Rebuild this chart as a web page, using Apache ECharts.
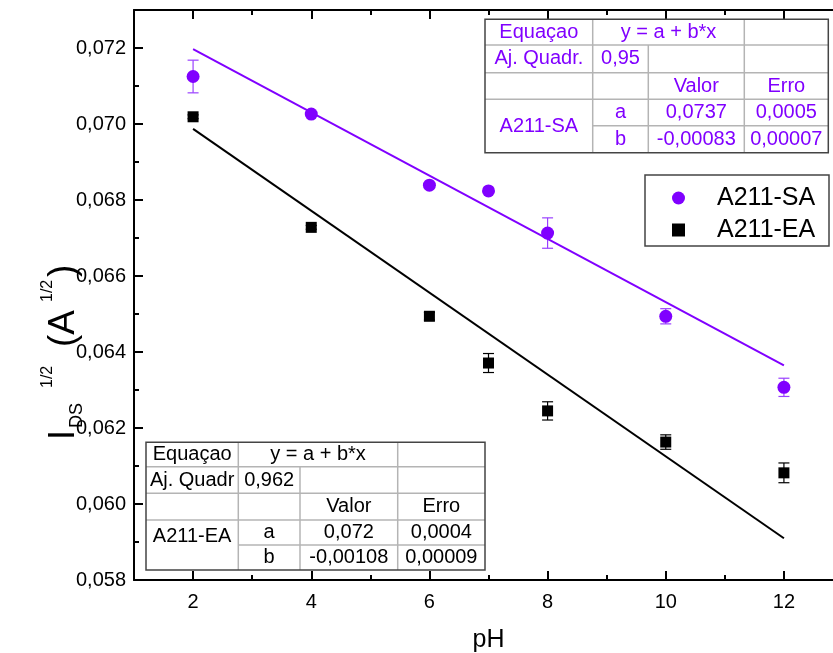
<!DOCTYPE html>
<html><head><meta charset="utf-8">
<script src="https://cdn.jsdelivr.net/npm/echarts@6/dist/echarts.min.js"></script>
<style>html,body{margin:0;padding:0;background:#fff}#chart{width:833px;height:653px}</style>
</head><body><div id="chart"></div>
<script>
// ---- data ----
const pH = [2, 4, 6, 7, 8, 10, 12];
const saValues = [0.07125, 0.07026, 0.06839, 0.06824, 0.06713, 0.06494, 0.06307];
const saErrors = [0.00043, 0.00005, 0.00005, 0.00005, 0.00040, 0.00020, 0.00024];
const eaValues = [0.07019, 0.06728, 0.06494, 0.06371, 0.06245, 0.06163, 0.06082];
const eaErrors = [0.00005, 0.00005, 0.00010, 0.00025, 0.00024, 0.00019, 0.00026];
const fitX = [2, 12];
const saFit = [0.07197, 0.06365];
const eaFit = [0.06987, 0.05910];
const xTicks = [2, 4, 6, 8, 10, 12];
const xMinorTicks = [3, 5, 7, 9, 11, 13];
const yTicks = [0.058, 0.060, 0.062, 0.064, 0.066, 0.068, 0.070, 0.072];
const yTickLabels = ['0,058', '0,060', '0,062', '0,064', '0,066', '0,068', '0,070', '0,072'];
const yMinorTicks = [0.059, 0.061, 0.063, 0.065, 0.067, 0.069, 0.071, 0.073];
const seriesNames = ['A211-SA', 'A211-EA'];
const tableSA = [
  ['Equaçao', 'y = a + b*x'],
  ['Aj. Quadr.', '0,95'],
  ['Valor', 'Erro'],
  ['A211-SA', 'a', '0,0737', '0,0005'],
  ['b', '-0,00083', '0,00007']
];
const tableEA = [
  ['Equaçao', 'y = a + b*x'],
  ['Aj. Quadr', '0,962'],
  ['Valor', 'Erro'],
  ['A211-EA', 'a', '0,072', '0,0004'],
  ['b', '-0,00108', '0,00009']
];

const FONT = 'Arial, "Liberation Sans", sans-serif';
const PURPLE = '#8000ff';
const chart = echarts.init(document.getElementById('chart'), null, {renderer: 'canvas'});

function errorSeries(name, values, errors, color) {
  return {
    type: 'custom', name: name + ' err', z: 1, silent: true,
    data: pH.map((x, i) => [x, values[i], errors[i]]),
    renderItem: function (params, api) {
      const x = api.value(0), y = api.value(1), e = api.value(2);
      const t = api.coord([x, y + e]), b = api.coord([x, y - e]);
      const hw = 5.5;
      const st = {stroke: color, lineWidth: 1.2};
      return {type: 'group', children: [
        {type: 'line', shape: {x1: t[0], y1: t[1], x2: b[0], y2: b[1]}, style: st},
        {type: 'line', shape: {x1: t[0] - hw, y1: t[1], x2: t[0] + hw, y2: t[1]}, style: st},
        {type: 'line', shape: {x1: b[0] - hw, y1: b[1], x2: b[0] + hw, y2: b[1]}, style: st}
      ]};
    }
  };
}

function buildTable(t, cols, rows, color, nameCy) {
  const els = [];
  const inner = {stroke: '#b4b4b4', lineWidth: 1.5};
  const L = cols[0], R = cols[4], T = rows[0], B = rows[5];
  els.push({type: 'rect', shape: {x: L, y: T, width: R - L, height: B - T}, style: {fill: '#fff', stroke: 'none'}, z: 10});
  const hl = (y, x1, x2) => els.push({type: 'line', shape: {x1: x1, y1: y, x2: x2, y2: y}, style: inner, z: 11});
  const vl = (x, y1, y2) => els.push({type: 'line', shape: {x1: x, y1: y1, x2: x, y2: y2}, style: inner, z: 11});
  hl(rows[1], L, R); hl(rows[2], L, R); hl(rows[3], L, R); hl(rows[4], cols[1], R);
  vl(cols[1], T, B); vl(cols[2], rows[1], B); vl(cols[3], T, B);
  els.push({type: 'rect', shape: {x: L, y: T, width: R - L, height: B - T}, style: {fill: 'none', stroke: '#444', lineWidth: 1.5}, z: 12});
  const cx = i => (cols[i] + cols[i + 1]) / 2;
  const cy = j => (rows[j] + rows[j + 1]) / 2;
  const txt = (s, x, y) => els.push({type: 'text', x: x, y: y, z: 13,
    style: {text: s, fill: color, font: '20px ' + FONT, align: 'center', verticalAlign: 'middle'}});
  txt(t[0][0], cx(0), cy(0)); txt(t[0][1], (cols[1] + cols[3]) / 2, cy(0));
  txt(t[1][0], cx(0), cy(1)); txt(t[1][1], cx(1), cy(1));
  txt(t[2][0], cx(2), cy(2)); txt(t[2][1], cx(3), cy(2));
  txt(t[3][0], cx(0), nameCy); txt(t[3][1], cx(1), cy(3)); txt(t[3][2], cx(2), cy(3)); txt(t[3][3], cx(3), cy(3));
  txt(t[4][0], cx(1), cy(4)); txt(t[4][1], cx(2), cy(4)); txt(t[4][2], cx(3), cy(4));
  return els;
}

const gridL = 134, gridT = 10, gridW = 709, gridH = 570;
const baseX = {
  type: 'value', min: 1, max: 13, gridIndex: 0,
  splitLine: {show: false}
};
const baseY = {
  type: 'value', min: 0.058, max: 0.073, gridIndex: 0,
  splitLine: {show: false}
};

const option = {
  backgroundColor: '#fff',
  animation: false,
  grid: {left: gridL, top: gridT, width: gridW, height: gridH, containLabel: false, outerBoundsMode: 'none'},
  xAxis: [
    Object.assign({}, baseX, {
      position: 'bottom',
      name: 'pH', nameLocation: 'middle', nameGap: 48,
      nameTextStyle: {fontSize: 25, fontFamily: FONT, color: '#000'},
      axisLine: {show: true, onZero: false, lineStyle: {color: '#000', width: 2}},
      axisTick: {show: true, inside: true, length: 9, customValues: xTicks, lineStyle: {color: '#000', width: 2}},
      axisLabel: {show: true, customValues: xTicks, margin: 12, fontSize: 20, fontFamily: FONT, color: '#000'}
    }),
    Object.assign({}, baseX, {
      position: 'bottom',
      axisLine: {show: false, onZero: false},
      axisTick: {show: true, inside: true, length: 5, customValues: xMinorTicks, lineStyle: {color: '#000', width: 2}},
      axisLabel: {show: false}
    }),
    Object.assign({}, baseX, {
      position: 'top',
      axisLine: {show: true, onZero: false, lineStyle: {color: '#000', width: 2}},
      axisTick: {show: true, inside: true, length: 9, customValues: xTicks, lineStyle: {color: '#000', width: 2}},
      axisLabel: {show: false}
    }),
    Object.assign({}, baseX, {
      position: 'top',
      axisLine: {show: false, onZero: false},
      axisTick: {show: true, inside: true, length: 5, customValues: xMinorTicks, lineStyle: {color: '#000', width: 2}},
      axisLabel: {show: false}
    })
  ],
  yAxis: [
    Object.assign({}, baseY, {
      position: 'left',
      axisLine: {show: true, onZero: false, lineStyle: {color: '#000', width: 2}},
      axisTick: {show: true, inside: true, length: 9, customValues: yTicks, lineStyle: {color: '#000', width: 2}},
      axisLabel: {show: true, customValues: yTicks, margin: 8, fontSize: 20, fontFamily: FONT, color: '#000',
        formatter: function (v) { const i = yTicks.findIndex(t => Math.abs(t - v) < 1e-9); return i >= 0 ? yTickLabels[i] : ''; }}
    }),
    Object.assign({}, baseY, {
      position: 'left',
      axisLine: {show: false, onZero: false},
      axisTick: {show: true, inside: true, length: 5, customValues: yMinorTicks, lineStyle: {color: '#000', width: 2}},
      axisLabel: {show: false}
    })
  ],
  legend: {
    data: [{name: seriesNames[0], icon: 'circle'}, {name: seriesNames[1], icon: 'rect'}],
    orient: 'vertical', left: 645, top: 175,
    padding: [10, 8, 3, 27],
    itemWidth: 13, itemHeight: 13, itemGap: 6,
    borderColor: '#444', borderWidth: 1.5, backgroundColor: '#fff',
    textStyle: {fontSize: 25, fontFamily: FONT, color: '#000', lineHeight: 26, padding: [0, 0, 0, 27], width: 104},
    z: 20
  },
  series: [
    errorSeries(seriesNames[0], saValues, saErrors, '#9a40ff'),
    errorSeries(seriesNames[1], eaValues, eaErrors, '#000'),
    {type: 'line', name: 'SA fit', data: fitX.map((x, i) => [x, saFit[i]]), showSymbol: false, symbol: 'none',
      lineStyle: {color: PURPLE, width: 2}, z: 2, silent: true},
    {type: 'line', name: 'EA fit', data: fitX.map((x, i) => [x, eaFit[i]]), showSymbol: false, symbol: 'none',
      lineStyle: {color: '#000', width: 2}, z: 2, silent: true},
    {type: 'scatter', name: seriesNames[0], data: pH.map((x, i) => [x, saValues[i]]), symbol: 'circle', symbolSize: 13,
      itemStyle: {color: PURPLE, opacity: 1}, z: 3},
    {type: 'scatter', name: seriesNames[1], data: pH.map((x, i) => [x, eaValues[i]]), symbol: 'rect', symbolSize: 11,
      itemStyle: {color: '#000', opacity: 1}, z: 3}
  ],
  graphic: [
    {type: 'group', children: buildTable(tableSA, [485, 592.7, 648.3, 744.3, 828.3], [19.3, 45, 72.7, 99.3, 125.7, 152.7], PURPLE, 126)},
    {type: 'group', children: buildTable(tableEA, [146, 238.3, 300, 397.7, 485], [442.3, 466.7, 493.3, 520, 545, 570], '#000', 536)},
    {type: 'group', x: 64, y: 440, rotation: Math.PI / 2, z: 30, children: [
      {type: 'text', x: 0, y: 0, style: {text: 'I', font: '36px ' + FONT, fill: '#000', align: 'left', verticalAlign: 'middle'}},
      {type: 'text', x: 12, y: 13, style: {text: 'DS', font: '18px ' + FONT, fill: '#000', align: 'left', verticalAlign: 'middle'}},
      {type: 'text', x: 52, y: -16, style: {text: '1/2', font: '16px ' + FONT, fill: '#000', align: 'left', verticalAlign: 'middle'}},
      {type: 'text', x: 93, y: 0, style: {text: '(A', font: '37px ' + FONT, fill: '#000', align: 'left', verticalAlign: 'middle'}},
      {type: 'text', x: 138, y: -16, style: {text: '1/2', font: '16px ' + FONT, fill: '#000', align: 'left', verticalAlign: 'middle'}},
      {type: 'text', x: 163, y: 0, style: {text: ')', font: '37px ' + FONT, fill: '#000', align: 'left', verticalAlign: 'middle'}}
    ]}
  ]
};
chart.setOption(option);
</script></body></html>
